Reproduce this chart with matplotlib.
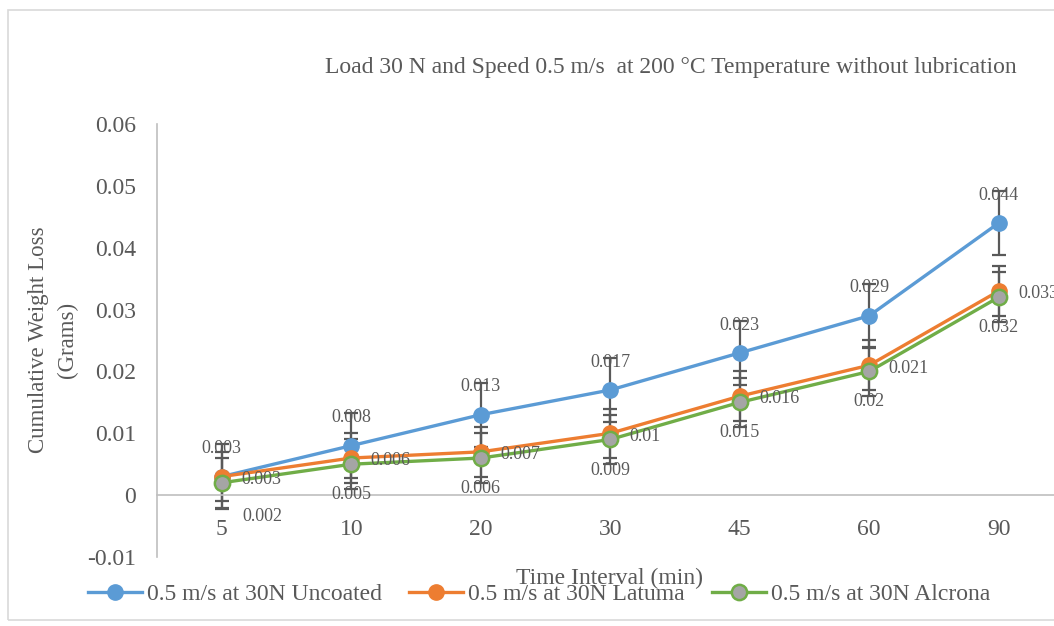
import matplotlib.pyplot as plt
from matplotlib.patches import Rectangle

plt.rcParams['font.family'] = ['Liberation Serif', 'DejaVu Serif']

# Data
time_labels = ["5", "10", "20", "30", "45", "60", "90"]
uncoated = [0.003, 0.008, 0.013, 0.017, 0.023, 0.029, 0.044]
latuma = [0.003, 0.006, 0.007, 0.010, 0.016, 0.021, 0.033]
alcrona = [0.002, 0.005, 0.006, 0.009, 0.015, 0.020, 0.032]
# error bar half-lengths (same for each point of a series)
err_uncoated = 0.0052
err_latuma = 0.0040
err_alcrona = 0.0040

series_names = ["0.5 m/s at 30N Uncoated", "0.5 m/s at 30N Latuma", "0.5 m/s at 30N Alcrona"]

blue = "#5B9BD5"
orange = "#ED7D31"
green = "#70AD47"
gray_fill = "#A5A5A5"
text_col = "#595959"
axis_col = "#BFBFBF"

fig = plt.figure(figsize=(10.54, 6.26), dpi=100)
# outer chart border
fig.patches.append(Rectangle((8 / 1054, 1 - 620 / 626), 1.1, (620 - 10) / 626,
                             transform=fig.transFigure, fill=False,
                             edgecolor="#D9D9D9", linewidth=1.2))

ax = fig.add_axes([157 / 1054, 69 / 626, 906.5 / 1054, 433 / 626])
x = list(range(len(time_labels)))

for vals, err in [(uncoated, err_uncoated), (latuma, err_latuma), (alcrona, err_alcrona)]:
    ax.errorbar(x, vals, yerr=err, fmt="none", ecolor=text_col, elinewidth=1.6,
                capsize=5, capthick=1.6, zorder=2)

ax.plot(x, uncoated, color=blue, lw=2.4, marker="o", ms=11, mfc=blue, mec=blue,
        label=series_names[0], zorder=3)
ax.plot(x, latuma, color=orange, lw=2.4, marker="o", ms=11, mfc=orange, mec=orange,
        label=series_names[1], zorder=3)
ax.plot(x, alcrona, color=green, lw=2.4, marker="o", ms=11, mfc=gray_fill, mec=green,
        mew=1.8, label=series_names[2], zorder=4)

lab_fs = 13
for i in x:
    ax.annotate(f"{uncoated[i]:g}", (i, uncoated[i]), xytext=(0, 20), textcoords="offset points",
                ha="center", va="center", fontsize=lab_fs, color=text_col, zorder=5)
    ax.annotate(f"{latuma[i]:g}", (i, latuma[i]), xytext=(14, -2), textcoords="offset points",
                ha="left", va="center", fontsize=lab_fs, color=text_col, zorder=5)
    if i == 0:
        off, ha = (15, -24), "left"
    else:
        off, ha = (0, -22), "center"
    ax.annotate(f"{alcrona[i]:g}", (i, alcrona[i]), xytext=off, textcoords="offset points",
                ha=ha, va="center", fontsize=lab_fs, color=text_col, zorder=5)

ax.set_xlim(-0.5, len(time_labels) - 0.5)
ax.set_ylim(-0.01, 0.06)
ax.set_yticks([-0.01, 0, 0.01, 0.02, 0.03, 0.04, 0.05, 0.06])
ax.set_yticklabels(["-0.01", "0", "0.01", "0.02", "0.03", "0.04", "0.05", "0.06"])
ax.set_xticks(x)
ax.set_xticklabels(time_labels)

ax.spines["top"].set_visible(False)
ax.spines["right"].set_visible(False)
ax.spines["bottom"].set_position(("data", 0))
ax.spines["bottom"].set_color(axis_col)
ax.spines["left"].set_color(axis_col)
ax.spines["bottom"].set_linewidth(1.2)
ax.spines["left"].set_linewidth(1.2)
ax.tick_params(axis="both", length=0, labelsize=17, colors=text_col)
ax.tick_params(axis="y", pad=15)
ax.tick_params(axis="x", pad=17)

fig.text(53 / 1054, 1 - 340 / 626, "Cumulative Weight Loss\n(Grams)", rotation=90,
         ha="center", va="center", fontsize=16.5, color=text_col, linespacing=1.5)
fig.text(671 / 1054, 1 - 68 / 626,
         "Load 30 N and Speed 0.5 m/s  at 200 \u00b0C Temperature without lubrication",
         ha="center", va="center", fontsize=17, color=text_col)
fig.text(610 / 1054, 1 - 578 / 626, "Time Interval (min)", ha="center", va="center",
         fontsize=17, color=text_col)

leg = fig.legend(loc="center", bbox_to_anchor=(539 / 1054, 1 - 594 / 626), ncol=3,
                 frameon=False, fontsize=17, handlelength=2.3, handletextpad=0.2,
                 columnspacing=1.15)
for t in leg.get_texts():
    t.set_color(text_col)

fig.savefig("out.png", dpi=100)
